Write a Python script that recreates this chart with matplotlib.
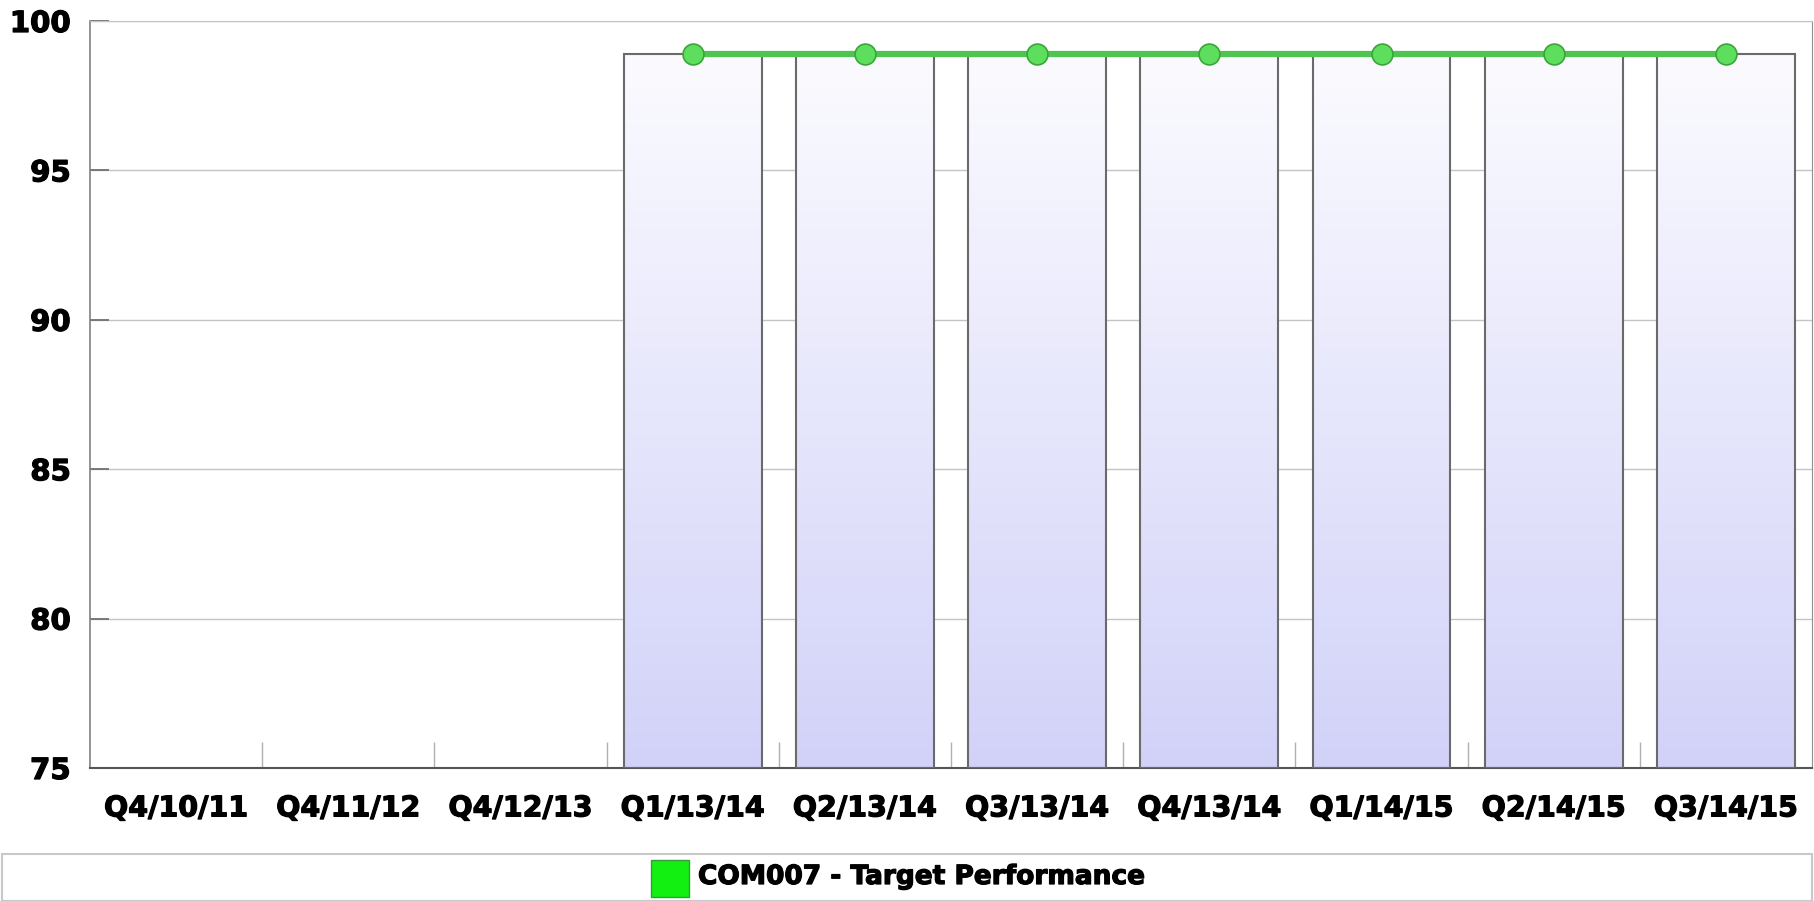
import numpy as np
import matplotlib
matplotlib.use('Agg')
import matplotlib.pyplot as plt
import matplotlib.patheffects as pe
from matplotlib.patches import Rectangle
from matplotlib.colors import LinearSegmentedColormap

# 資料
categories = ['Q4/10/11', 'Q4/11/12', 'Q4/12/13', 'Q1/13/14', 'Q2/13/14',
              'Q3/13/14', 'Q4/13/14', 'Q1/14/15', 'Q2/14/15', 'Q3/14/15']
actual = [np.nan, np.nan, np.nan, 98.9, 98.9, 98.9, 98.9, 98.9, 98.9, 98.9]
target = [np.nan, np.nan, np.nan, 98.9, 98.9, 98.9, 98.9, 98.9, 98.9, 98.9]
legend_label = 'COM007 - Target Performance'
y_ticks = [75, 80, 85, 90, 95, 100]

fig = plt.figure(figsize=(18.14, 9.01), dpi=100)
ax = fig.add_axes([90 / 1814, 1 - 768 / 901, 1722 / 1814, 747 / 901])

x = np.arange(len(categories))
ymin, ymax = 75, 100
heavy = [pe.withStroke(linewidth=0.9, foreground='black')]

# 漸層長條
grad_cmap = LinearSegmentedColormap.from_list('bar', ['#d2d2f9', '#fbfbff'])
gradient = np.linspace(0, 1, 256).reshape(-1, 1)
bars = ax.bar(x, [v - ymin if not np.isnan(v) else 0 for v in actual], width=0.8,
              bottom=ymin, facecolor='none', edgecolor='#6a6a6a', linewidth=1.5, zorder=3)
for xi, v, b in zip(x, actual, bars):
    if np.isnan(v):
        b.set_visible(False)
        continue
    im = ax.imshow(gradient, cmap=grad_cmap, origin='lower', aspect='auto',
                   extent=(xi - 0.4, xi + 0.4, ymin, v), zorder=2)
    im.set_clip_path(b)

# 目標線
ax.plot(x, target, color='#50c450', lw=4.5, marker='o', markersize=15,
        markerfacecolor='#5ddf5d', markeredgecolor='#3aa53a', markeredgewidth=1.2, zorder=4)

ax.set_xlim(-0.5, len(categories) - 0.5)
ax.set_ylim(ymin, ymax)
ax.set_yticks(y_ticks)
ax.set_yticklabels([str(t) for t in y_ticks], fontsize=21, fontweight='bold')
ax.set_xticks(x)
ax.set_xticklabels(categories, fontsize=20.5, fontweight='bold')
for lbl in ax.get_xticklabels() + ax.get_yticklabels():
    lbl.set_path_effects(heavy)
ax.set_xticks(x[:-1] + 0.5, minor=True)
ax.tick_params(axis='x', which='major', length=0, pad=19)
ax.tick_params(axis='x', which='minor', direction='in', length=19, color='#b0b0b0', width=1)
ax.tick_params(axis='y', direction='in', length=14, color='#707070', width=1.3, pad=14)
ax.yaxis.grid(True, color='#c4c4c4', lw=1)
ax.set_axisbelow(True)

ax.spines['top'].set_color('#c4c4c4')
ax.spines['left'].set_color('#808080')
ax.spines['right'].set_color('#909090')
ax.spines['bottom'].set_color('#555555')
ax.spines['bottom'].set_linewidth(1.5)
ax.spines['left'].set_linewidth(1.2)

# 圖例框
fig.add_artist(Rectangle((0.001, 0.0), 0.998, 1 - 854 / 901, transform=fig.transFigure,
                         facecolor='white', edgecolor='#c8c8c8', lw=1.5))
fig.add_artist(Rectangle((651 / 1814, 1 - 897 / 901), 38 / 1814, 37 / 901, transform=fig.transFigure,
                         facecolor='#11f011', edgecolor='#3a9a3a', lw=1))
fig.text(698 / 1814, 1 - 877 / 901, legend_label, fontsize=19, fontweight='bold',
         va='center', ha='left', path_effects=heavy)

fig.savefig('out.png', dpi=100)
